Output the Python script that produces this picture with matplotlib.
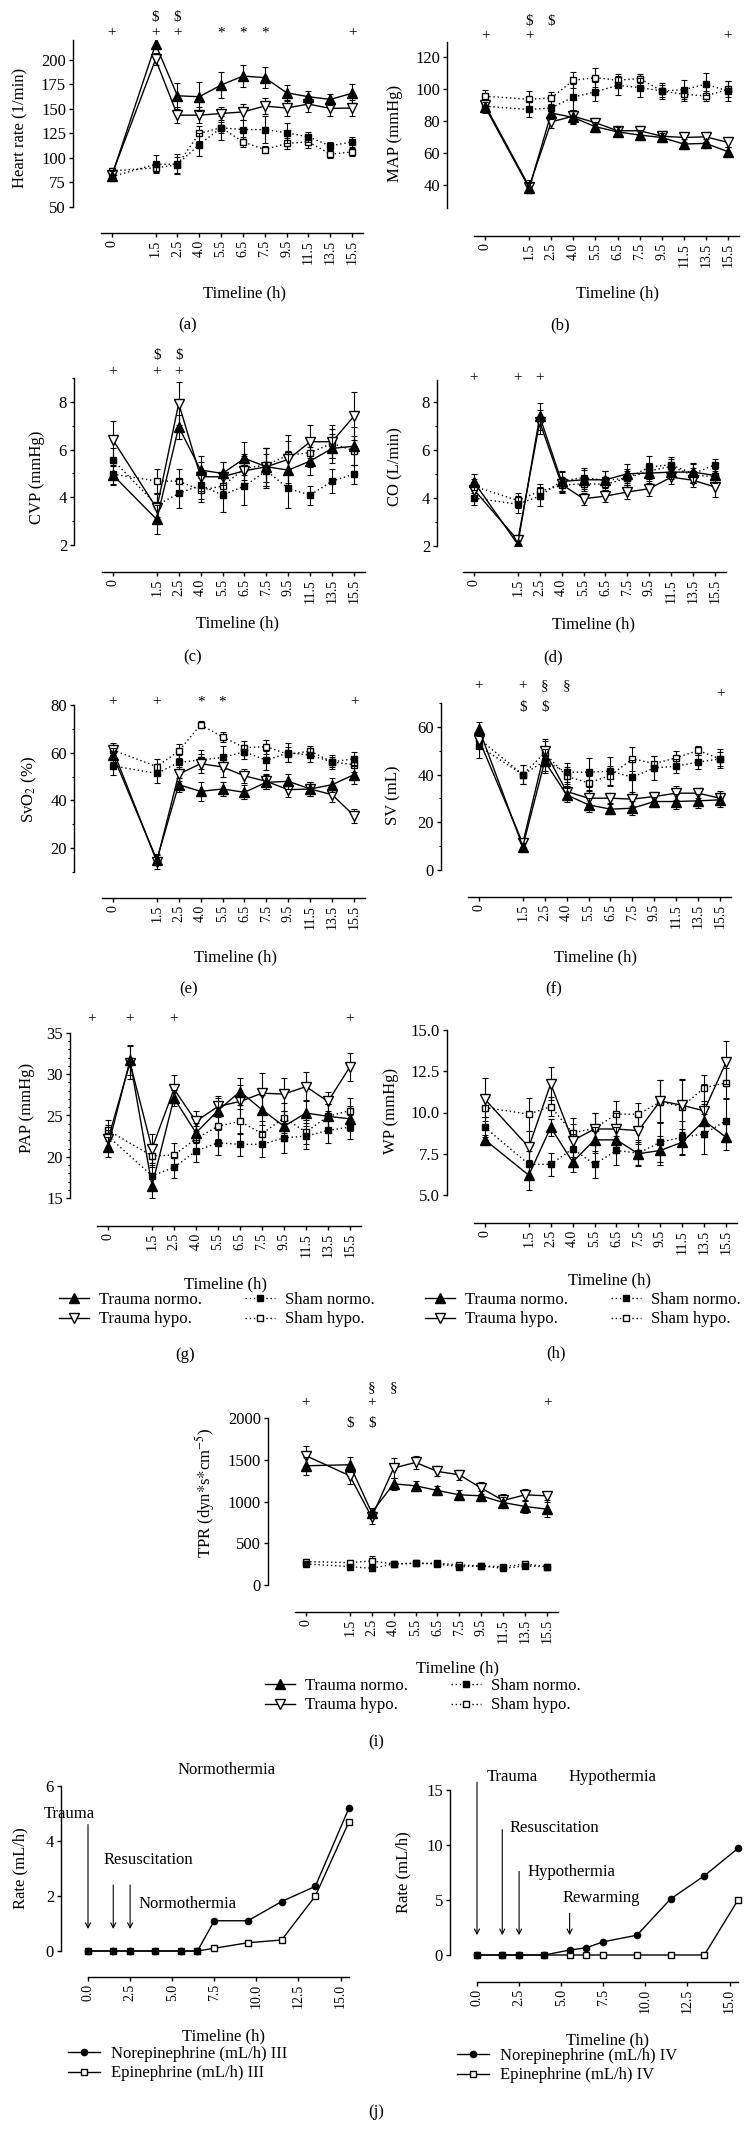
import numpy as np
import matplotlib
matplotlib.use('Agg')
import matplotlib.pyplot as plt
from matplotlib.lines import Line2D
from matplotlib.ticker import MultipleLocator

plt.rcParams['font.family'] = ['Liberation Serif', 'DejaVu Serif']
plt.rcParams['mathtext.fontset'] = 'stix'
plt.rcParams['font.size'] = 12

W, H = 752, 2129

TIME_LABELS = ['0', '1.5', '2.5', '4.0', '5.5', '6.5', '7.5', '9.5', '11.5', '13.5', '15.5']
TIME_H = [0, 1.5, 2.5, 4.0, 5.5, 6.5, 7.5, 9.5, 11.5, 13.5, 15.5]
GROUPS = ['Trauma normo.', 'Trauma hypo.', 'Sham normo.', 'Sham hypo.']

# (a) heart rate (1/min): trauma normo, trauma hypo, sham normo, sham hypo
HR_TN = [82, 216, 163.5, 162.5, 174.4, 183.6, 182, 166.6, 162.5, 159.8, 166]
HR_TH = [83, 200.7, 143.7, 143.7, 145.4, 147, 153, 151, 155, 150.6, 151]
HR_SN = [81, 93.6, 93.6, 113.7, 130.8, 129, 129, 125.7, 121.6, 112.4, 116.5]
HR_SH = [86.8, 90, 93, 125, 131, 116.5, 108.6, 114.8, 116.5, 103.9, 106.2]
HR_TN_ERR = [5, 5, 13, 15, 13, 11, 11, 8, 6, 6, 10]
HR_TH_ERR = [4, 6, 8, 8, 7, 8, 8, 8, 8, 8, 8]
HR_SN_ERR = [4, 9, 10, 12, 12, 10, 14, 10, 5, 4, 5]
HR_SH_ERR = [3, 4, 8, 8, 6, 5, 4, 6, 6, 4, 4]

# (b) MAP (mmHg)
MAP_TN = [88.8, 38, 85, 82.2, 76.4, 73.2, 71.2, 69.7, 65.6, 66, 60.8]
MAP_TH = [89.9, 39, 79.5, 83, 78.9, 73.9, 73.9, 70.5, 69.7, 70.1, 66.6]
MAP_SN = [89.2, 87.2, 88.2, 95, 98.2, 102.3, 100.9, 98.8, 99.6, 103, 98.8]
MAP_SH = [95.5, 93.6, 94.4, 105.5, 107.1, 105.5, 106.5, 98.8, 96.7, 95.7, 99.8]
MAP_TN_ERR = [3, 3, 4, 4, 3, 3, 3, 3, 3, 3, 3]
MAP_TH_ERR = [3, 4, 4, 4, 3, 3, 3, 3, 3, 3, 3]
MAP_SN_ERR = [4, 5, 4, 8, 6, 6, 6, 4, 6, 7, 6]
MAP_SH_ERR = [4, 5, 4, 5, 6, 4, 3, 5, 4, 3, 5]

# (c) CVP (mmHg)
CVP_TN = [4.93, 3.07, 6.95, 5.14, 5.0, 5.63, 5.28, 5.14, 5.52, 6.05, 6.14]
CVP_TH = [6.4, 3.53, 7.93, 4.86, 4.86, 5.11, 5.28, 5.59, 6.33, 6.33, 7.4]
CVP_SN = [5.56, 3.67, 4.16, 4.51, 4.09, 4.47, 5.11, 4.37, 4.09, 4.68, 4.97]
CVP_SH = [4.97, 4.68, 4.68, 4.3, 4.47, 5.21, 5.35, 5.77, 5.87, 6.26, 5.95]
CVP_TN_ERR = [0.4, 0.6, 0.5, 0.6, 0.5, 0.7, 0.8, 0.8, 0.6, 0.6, 0.8]
CVP_TH_ERR = [0.8, 0.6, 0.9, 0.6, 0.6, 0.7, 0.8, 1.0, 0.7, 0.7, 1.0]
CVP_SN_ERR = [0.5, 0.5, 0.6, 0.6, 0.7, 0.8, 0.7, 0.8, 0.4, 0.5, 0.4]
CVP_SH_ERR = [0.4, 0.5, 0.5, 0.5, 0.5, 0.5, 0.7, 0.6, 0.6, 0.6, 0.6]

# (d) CO (L/min)
CO_TN = [4.67, 2.07, 7.4, 4.69, 4.76, 4.76, 5.01, 5.04, 5.08, 5.08, 4.94]
CO_TH = [4.35, 2.24, 7.17, 4.57, 3.97, 4.08, 4.25, 4.39, 4.87, 4.74, 4.46]
CO_SN = [4.0, 3.74, 4.08, 4.71, 4.85, 4.74, 4.83, 5.29, 5.39, 5.01, 5.39]
CO_SH = [4.49, 3.9, 4.28, 4.53, 4.6, 4.57, 4.83, 5.13, 5.32, 4.94, 4.9]
CO_TN_ERR = [0.35, 0.15, 0.55, 0.4, 0.4, 0.35, 0.4, 0.4, 0.3, 0.4, 0.3]
CO_TH_ERR = [0.3, 0.15, 0.5, 0.3, 0.25, 0.25, 0.3, 0.3, 0.3, 0.3, 0.4]
CO_SN_ERR = [0.3, 0.35, 0.4, 0.4, 0.4, 0.4, 0.4, 0.45, 0.3, 0.4, 0.25]
CO_SH_ERR = [0.3, 0.3, 0.3, 0.3, 0.3, 0.3, 0.3, 0.35, 0.3, 0.3, 0.3]

# (e) SvO2 (%)
SVO2_TN = [58.9, 15.1, 46.6, 43.8, 44.8, 43.4, 47.6, 48, 44.8, 46.6, 50.8]
SVO2_TH = [61.1, 14.4, 51, 55.4, 54, 50.3, 48, 44.5, 44.8, 42.4, 33.6]
SVO2_SN = [54.5, 51.3, 55.9, 57, 58, 60.4, 56.8, 60, 59, 56.1, 57.5]
SVO2_SH = [61.1, 54.2, 60.7, 71.7, 66.6, 62.1, 62.5, 59.3, 60.7, 56.1, 55.0]
SVO2_TN_ERR = [3, 2, 3, 4, 3, 3, 3, 3, 3, 3, 4]
SVO2_TH_ERR = [3, 3, 3, 4, 4, 3, 3, 3, 3, 3, 3]
SVO2_SN_ERR = [4, 4, 3, 4, 5, 3, 4, 4, 3, 3, 3]
SVO2_SH_ERR = [2, 3, 3, 1.5, 2, 3, 3, 3, 2, 2, 3]

# (f) SV (mL)
SV_TN = [59.2, 9.8, 45.6, 31.5, 27.3, 25.5, 25.9, 28.7, 28.7, 29, 29.4]
SV_TH = [54.7, 11.2, 49.8, 32.9, 30.1, 30.1, 29.7, 30.8, 32.2, 32.2, 30.1]
SV_SN = [51.9, 40, 45.6, 41, 41, 41.4, 38.9, 42.8, 43.5, 45.2, 46.6]
SV_SH = [55, 40, 49.1, 39.3, 36.5, 39.6, 46.6, 44.6, 47, 50.1, 46.6]
SV_TN_ERR = [3, 1.5, 5, 3, 3, 2, 3, 2, 3, 3, 3]
SV_TH_ERR = [3, 1.5, 5, 3, 3, 2, 3, 2, 3, 2, 3]
SV_SN_ERR = [5, 4, 4, 4, 6, 6, 7, 5, 3, 3, 4]
SV_SH_ERR = [4, 4, 5, 4, 3, 4, 5, 3, 3, 2, 3]

# (g) PAP (mmHg); trauma groups have an extra sample between 0 and 1.5 h
PAP_TN = [21.2, 31.7, 16.5, 27.1, 22.9, 25.6, 27.9, 25.7, 23.7, 25.3, 24.9, 24.6]
PAP_TH = [22.1, 31.4, 21.0, 28.2, 24.3, 26.1, 26.7, 27.7, 27.6, 28.5, 26.7, 30.9]
PAP_SN = [22.5, 17.7, 18.7, 20.7, 21.7, 21.5, 21.5, 22.3, 22.5, 23.2, 23.6]
PAP_SH = [23.2, 20.1, 20.2, 22.2, 23.7, 24.3, 22.8, 24.7, 23.0, 24.9, 25.6]
PAP_TN_ERR = [1.2, 1.8, 1.5, 1.0, 1.2, 1.5, 1.6, 1.8, 1.8, 1.6, 1.5, 1.5]
PAP_TH_ERR = [1.2, 2.0, 1.8, 1.7, 1.2, 1.3, 2.0, 2.5, 2.0, 1.8, 1.2, 1.7]
PAP_SN_ERR = [1.3, 1.3, 1.3, 1.3, 1.5, 1.4, 1.5, 1.8, 1.6, 1.5, 1.5]
PAP_SH_ERR = [1.3, 1.3, 1.5, 1.5, 1.5, 1.5, 1.5, 1.8, 1.5, 1.5, 1.5]

# (h) WP (mmHg)
WP_TN = [8.34, 6.2, 9.1, 7.0, 8.34, 8.34, 7.5, 7.7, 8.2, 9.5, 8.5]
WP_TH = [10.8, 7.9, 11.74, 8.3, 9.0, 9.0, 8.9, 10.7, 10.44, 10.1, 13.04]
WP_SN = [9.1, 6.86, 6.86, 7.8, 6.86, 7.7, 7.54, 8.2, 8.5, 8.7, 9.5]
WP_SH = [10.3, 9.9, 10.36, 8.76, 9.04, 9.9, 9.9, 10.64, 10.36, 11.5, 11.8]
WP_TN_ERR = [0.3, 0.9, 0.5, 0.6, 0.8, 0.8, 0.7, 0.9, 0.8, 1.0, 0.8]
WP_TH_ERR = [1.3, 1.0, 1.0, 1.0, 1.0, 1.0, 0.8, 1.3, 1.6, 1.6, 1.3]
WP_SN_ERR = [0.6, 0.8, 0.7, 0.9, 0.8, 0.9, 0.8, 1.2, 1.0, 1.2, 1.3]
WP_SH_ERR = [0.6, 1.0, 0.6, 0.9, 0.9, 0.8, 0.7, 1.3, 1.6, 0.8, 0.9]

# (i) TPR (dyn*s*cm^-5)
TPR_TN = [1428, 1440, 868, 1212, 1188, 1132, 1080, 1068, 988, 940, 908]
TPR_TH = [1548, 1308, 812, 1400, 1468, 1360, 1320, 1160, 1012, 1080, 1068]
TPR_SN = [252, 220, 200, 252, 260, 252, 220, 228, 200, 228, 220]
TPR_SH = [280, 268, 288, 252, 260, 260, 240, 228, 220, 252, 220]
TPR_TN_ERR = [110, 90, 60, 70, 60, 50, 60, 60, 70, 80, 90]
TPR_TH_ERR = [120, 100, 80, 120, 80, 60, 60, 70, 80, 70, 50]
TPR_SN_ERR = [30, 30, 30, 25, 25, 20, 20, 20, 20, 30, 20]
TPR_SH_ERR = [30, 30, 60, 25, 25, 20, 20, 20, 20, 30, 20]

# (j) catecholamine rates (mL/h)
NOR_III = [0, 0, 0, 0, 0, 0, 1.1, 1.1, 1.8, 2.35, 5.2]
EPI_III = [0, 0, 0, 0, 0, 0, 0.1, 0.3, 0.4, 2.0, 4.7]
NOR_IV = [0, 0, 0, 0, 0.45, 0.66, 1.2, 1.8, 5.1, 7.2, 9.7]
EPI_IV = [0, 0, 0, 0, 0, 0, 0, 0, 0, 0, 5.0]
EVENTS_III = ['Trauma', 'Resuscitation', 'Normothermia']
EVENT_T_III = [0, 1.5, 2.5]
EVENTS_IV = ['Trauma', 'Resuscitation', 'Hypothermia', 'Rewarming']
EVENT_T_IV = [0, 1.5, 2.5, 5.5]

# significance marks: (category position, symbol, row)
HR_SIG = [(0, '+', 0), (2, '+', 0), (3, '+', 0), (5, '*', 0), (6, '*', 0), (7, '*', 0),
          (11, '+', 0), (2, r'\$', 1), (3, r'\$', 1)]
MAP_SIG = [(0, '+', 0), (2, '+', 0), (11, '+', 0), (2, r'\$', 1), (3, r'\$', 1)]
CVP_SIG = [(0, '+', 0), (2, '+', 0), (3, '+', 0), (2, r'\$', 1), (3, r'\$', 1)]
CO_SIG = [(0, '+', 0), (2, '+', 0), (3, '+', 0)]
SVO2_SIG = [(0, '+', 0), (2, '+', 0), (4, '*', 0), (5, '*', 0), (11, '+', 0)]
SV_SIG = [(0, '+', 1), (2, '+', 1), (3, '§', 1), (4, '§', 1), (2, r'\$', 0), (3, r'\$', 0),
          (11, '+', 2)]
PAP_SIG = [(-0.75, '+', 0), (1, '+', 0), (3, '+', 0), (11, '+', 0)]
TPR_SIG = [(0, '+', 1), (2, r'\$', 0), (3, r'\$', 0), (3, '+', 1), (3, '§', 2), (4, '§', 2),
           (11, '+', 1)]

POS = np.r_[0, 2:12]

STYLES = [
    dict(marker='^', mfc='black', ls='-', ms=6.5),
    dict(marker='v', mfc='white', ls='-', ms=6.5),
    dict(marker='s', mfc='black', ls=(0, (1, 2)), ms=4),
    dict(marker='s', mfc='white', ls=(0, (1, 2)), ms=4),
]

fig = plt.figure(figsize=(W / 100, H / 100), dpi=100)


def ftext(x, y, s, **kw):
    fig.text(x / W, 1 - y / H, s, ha='center', va='center', **kw)


def new_axes(l, t, r, b, yspine, xspine):
    ax = fig.add_axes([l / W, 1 - b / H, (r - l) / W, (b - t) / H])
    ax.patch.set_visible(False)
    ax.spines['top'].set_visible(False)
    ax.spines['right'].set_visible(False)
    ax.spines['left'].set_position(('outward', (l - yspine) * 0.72))
    ax.spines['bottom'].set_position(('outward', (xspine - b) * 0.72))
    ax.spines['left'].set_linewidth(1.0)
    ax.spines['bottom'].set_linewidth(1.0)
    ax.tick_params(direction='out', length=3, width=1.0, labelsize=12, pad=2)
    ax.tick_params(axis='x', labelsize=10, labelrotation=90)
    ax.tick_params(which='minor', direction='out', length=1.8, width=0.8)
    return ax


def group_legend(ax, x, y):
    handles = [Line2D([], [], color='black', lw=1, mec='black', **st) for st in STYLES]
    ax.legend(handles, GROUPS, ncol=2, loc='upper left', frameon=False, fontsize=12,
              bbox_to_anchor=(x / W, 1 - y / H), bbox_transform=fig.transFigure,
              handlelength=1.8, handletextpad=0.6, columnspacing=2.6, labelspacing=0.2,
              borderpad=0, borderaxespad=0)


def group_panel(box, spines, ylim, yticks, data, errs, sig=(), sig_rows=(), xs=None,
                minor=None, yfmt='{:g}'):
    l, t, r, b = box
    ax = new_axes(l, t, r, b, *spines)
    ax.set_xlim(-0.5, 11.5)
    ax.set_ylim(*ylim)
    if xs is None:
        xs = [POS] * 4
    for i in (3, 2, 1, 0):
        ax.errorbar(xs[i], data[i], yerr=errs[i], color='black', lw=1, mec='black',
                    capsize=2.2, elinewidth=0.8, capthick=0.8, zorder=3 + (3 - i), **STYLES[i])
    ax.set_xticks(POS)
    ax.set_xticklabels(TIME_LABELS)
    ax.set_yticks(yticks)
    ax.set_yticklabels([yfmt.format(v) for v in yticks])
    if minor:
        ax.yaxis.set_minor_locator(MultipleLocator(minor))
    for x, sym, row in sig:
        ax.text(x, (b - sig_rows[row]) / (b - t), sym, transform=ax.get_xaxis_transform(),
                ha='center', va='center', fontsize=11)
    return ax


# (a)
group_panel((101, 40, 363, 207), (73, 233), (50, 220.4), [50, 75, 100, 125, 150, 175, 200],
            [HR_TN, HR_TH, HR_SN, HR_SH], [HR_TN_ERR, HR_TH_ERR, HR_SN_ERR, HR_SH_ERR],
            HR_SIG, (33, 17))
ftext(20, 128, 'Heart rate (1/min)', rotation=90)
ftext(245, 293, 'Timeline (h)')
ftext(188, 325, '(a)')

# (b)
group_panel((474, 42, 739, 208), (447, 236), (25.6, 129.4), [40, 60, 80, 100, 120],
            [MAP_TN, MAP_TH, MAP_SN, MAP_SH], [MAP_TN_ERR, MAP_TH_ERR, MAP_SN_ERR, MAP_SH_ERR],
            MAP_SIG, (36, 21))
ftext(395, 133, 'MAP (mmHg)', rotation=90)
ftext(618, 293, 'Timeline (h)')
ftext(560, 325, '(b)')

# (c)
group_panel((102, 378, 365, 545), (74, 572), (2, 9.0), [2, 4, 6, 8],
            [CVP_TN, CVP_TH, CVP_SN, CVP_SH], [CVP_TN_ERR, CVP_TH_ERR, CVP_SN_ERR, CVP_SH_ERR],
            CVP_SIG, (372, 356), minor=1)
ftext(37, 477, 'CVP (mmHg)', rotation=90)
ftext(237, 623, 'Timeline (h)')
ftext(193, 657, '(c)')

# (d)
group_panel((463, 380, 726, 546), (437, 572), (2, 8.92), [2, 4, 6, 8],
            [CO_TN, CO_TH, CO_SN, CO_SH], [CO_TN_ERR, CO_TH_ERR, CO_SN_ERR, CO_SH_ERR],
            CO_SIG, (378,), minor=1)
ftext(395, 467, 'CO (L/min)', rotation=90)
ftext(593, 624, 'Timeline (h)')
ftext(553, 657, '(d)')

# (e)
group_panel((102, 705, 365, 872), (74, 898), (10, 80), [20, 40, 60, 80],
            [SVO2_TN, SVO2_TH, SVO2_SN, SVO2_SH],
            [SVO2_TN_ERR, SVO2_TH_ERR, SVO2_SN_ERR, SVO2_SH_ERR],
            SVO2_SIG, (702,), minor=10)
ftext(29, 790, 'SvO$_2$ (%)', rotation=90)
ftext(235, 957, 'Timeline (h)')
ftext(189, 989, '(e)')

# (f)
group_panel((468, 703, 731, 870), (441, 897), (0, 70), [0, 20, 40, 60],
            [SV_TN, SV_TH, SV_SN, SV_SH], [SV_TN_ERR, SV_TH_ERR, SV_SN_ERR, SV_SH_ERR],
            SV_SIG, (708, 686, 694), minor=10)
ftext(393, 795, 'SV (mL)', rotation=90)
ftext(595, 957, 'Timeline (h)')
ftext(554, 989, '(f)')

# (g)
ax_g = group_panel((97, 1033, 361, 1198), (70, 1226), (15, 35), [15, 20, 25, 30, 35],
                   [PAP_TN, PAP_TH, PAP_SN, PAP_SH],
                   [PAP_TN_ERR, PAP_TH_ERR, PAP_SN_ERR, PAP_SH_ERR],
                   PAP_SIG, (1019,), xs=[np.arange(12), np.arange(12), POS, POS], minor=1)
ftext(27, 1108, 'PAP (mmHg)', rotation=90)
ftext(226, 1284, 'Timeline (h)')
group_legend(ax_g, 59, 1292)
ftext(185, 1355, '(g)')

# (h)
ax_h = group_panel((474, 1030, 737, 1195), (447, 1223), (5, 15), [5, 7.5, 10, 12.5, 15],
                   [WP_TN, WP_TH, WP_SN, WP_SH], [WP_TN_ERR, WP_TH_ERR, WP_SN_ERR, WP_SH_ERR],
                   yfmt='{:.1f}')
ftext(391, 1111, 'WP (mmHg)', rotation=90)
ftext(609, 1280, 'Timeline (h)')
group_legend(ax_h, 425, 1292)
ftext(556, 1353, '(h)')

# (i)
ax_i = group_panel((295, 1418, 558, 1585), (268, 1612), (0, 2000), [0, 500, 1000, 1500, 2000],
                   [TPR_TN, TPR_TH, TPR_SN, TPR_SH],
                   [TPR_TN_ERR, TPR_TH_ERR, TPR_SN_ERR, TPR_SH_ERR],
                   TPR_SIG, (1423, 1403, 1388))
ftext(205, 1493, 'TPR (dyn$*$s$*$cm$^{-5}$)', rotation=90)
ftext(457, 1668, 'Timeline (h)')
group_legend(ax_i, 265, 1678)
ftext(376, 1742, '(i)')


# (j)
def rate_panel(box, spines, ylim, yticks, nor, epi, roman, events, event_t, text_xy, arrow_y,
               title, title_xy, xlabel_xy, ylabel_xy, legend_xy):
    l, t, r, b = box
    ax = new_axes(l, t, r, b, *spines)
    ax.set_xlim(0, 15.5)
    ax.set_ylim(*ylim)
    ax.plot(TIME_H, epi, color='black', lw=1, marker='s', ms=4.5, mfc='white', mec='black',
            clip_on=False, zorder=3)
    ax.plot(TIME_H, nor, color='black', lw=1, marker='o', ms=4.5, mfc='black', mec='black',
            clip_on=False, zorder=4)
    ax.set_xticks(np.arange(0, 15.1, 2.5))
    ax.set_xticklabels(['{:.1f}'.format(v) for v in np.arange(0, 15.1, 2.5)])
    ax.set_yticks(yticks)
    for name, te, (tx, ty), (a0, a1) in zip(events, event_t, text_xy, arrow_y):
        ax.annotate('', xy=(te, a1), xytext=(te, a0), annotation_clip=False,
                    arrowprops=dict(arrowstyle='->', lw=0.8, color='black',
                                    shrinkA=0, shrinkB=0, mutation_scale=9))
        ax.text(tx, ty, name, ha='left', va='center', fontsize=12, clip_on=False)
    ftext(*title_xy, title)
    ftext(*xlabel_xy, 'Timeline (h)')
    ftext(*ylabel_xy, 'Rate (mL/h)', rotation=90)
    handles = [Line2D([], [], color='black', lw=1, marker='o', ms=4.5, mfc='black'),
               Line2D([], [], color='black', lw=1, marker='s', ms=4.5, mfc='white')]
    labels = ['Norepinephrine (mL/h) ' + roman, 'Epinephrine (mL/h) ' + roman]
    ax.legend(handles, labels, loc='upper left', frameon=False, fontsize=12,
              bbox_to_anchor=(legend_xy[0] / W, 1 - legend_xy[1] / H),
              bbox_transform=fig.transFigure, handlelength=1.9, handletextpad=0.7,
              labelspacing=0.2, borderpad=0, borderaxespad=0)
    return ax


rate_panel((88, 1786, 349, 1951), (61, 1977), (0, 6), [0, 2, 4, 6], NOR_III, EPI_III, 'III',
           EVENTS_III, EVENT_T_III, [(-2.6, 5.0), (0.9, 3.3), (3.0, 1.7)],
           [(4.6, 0.8), (2.4, 0.8), (2.4, 0.8)],
           'Normothermia', (227, 1770), (223, 2036), (20, 1868), (68, 2046))
rate_panel((477, 1790, 738, 1955), (450, 1982), (0, 15), [0, 5, 10, 15], NOR_IV, EPI_IV, 'IV',
           EVENTS_IV, EVENT_T_IV, [(0.6, 16.2), (1.96, 11.5), (3.0, 7.5), (5.06, 5.2)],
           [(15.7, 1.8), (11.4, 1.8), (7.6, 1.8), (3.8, 1.8)],
           'Hypothermia', (612, 1777), (607, 2040), (403, 1872), (457, 2048))
ftext(376, 2112, '(j)')

fig.savefig('out.png', dpi=100)
